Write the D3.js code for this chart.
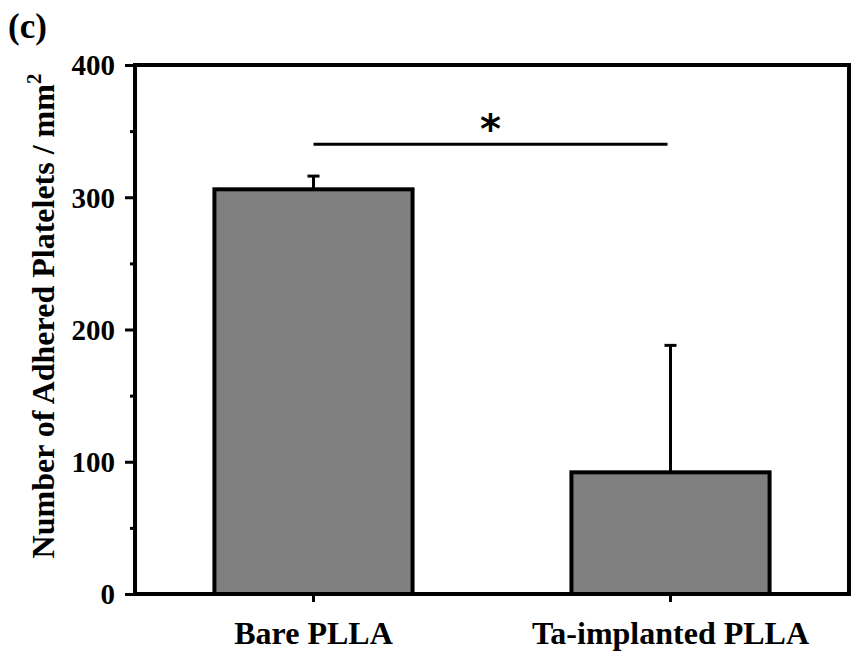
<!DOCTYPE html>
<html>
<head>
<meta charset="utf-8">
<script src="https://cdn.jsdelivr.net/npm/d3@7"></script>
<style>
  body { margin: 0; background: #fff; }
  text { font-family: "Liberation Serif", "Times New Roman", serif; font-weight: bold; }
</style>
</head>
<body>
<div class="chart"></div>
<script>
// data
const groups = ["Bare PLLA", "Ta-implanted PLLA"]
const means = [306, 92]
const errors = [10, 96]
const yTicks = [0, 100, 200, 300, 400]
const yMinorTicks = [50, 150, 250, 350]
const sigPair = ["Bare PLLA", "Ta-implanted PLLA"]

const W = 854, H = 652
const margin = {left: 135, right: 5, top: 65, bottom: 58}
const width = W - margin.left - margin.right
const height = H - margin.top - margin.bottom

const svg = d3.select(".chart").append("svg")
  .attr("width", W)
  .attr("height", H)

const g = svg.append("g")
  .attr("transform", "translate(" + margin.left + "," + margin.top + ")")

const xScale = d3.scaleBand()
  .domain(groups)
  .range([0, width])
  .paddingInner(0.445)
  .paddingOuter(0.2225)

const yScale = d3.scaleLinear()
  .domain([0, 400])
  .range([height, 0])

// bars
g.selectAll("rect.bar")
  .data(groups)
  .enter()
  .append("rect")
  .attr("class", "bar")
  .attr("x", d => xScale(d))
  .attr("y", (d, i) => yScale(means[i]))
  .attr("width", xScale.bandwidth())
  .attr("height", (d, i) => height - yScale(means[i]))
  .attr("fill", "#808080")
  .attr("stroke", "#000")
  .attr("stroke-width", 4)

// error bars (upper half only)
const eb = g.selectAll("g.err")
  .data(groups)
  .enter()
  .append("g")
  .attr("class", "err")

eb.append("line")
  .attr("x1", d => xScale(d) + xScale.bandwidth() / 2)
  .attr("x2", d => xScale(d) + xScale.bandwidth() / 2)
  .attr("y1", (d, i) => yScale(means[i]))
  .attr("y2", (d, i) => yScale(means[i] + errors[i]))
  .attr("stroke", "#000")
  .attr("stroke-width", 3)

eb.append("line")
  .attr("x1", d => xScale(d) + xScale.bandwidth() / 2 - 6)
  .attr("x2", d => xScale(d) + xScale.bandwidth() / 2 + 6)
  .attr("y1", (d, i) => yScale(means[i] + errors[i]))
  .attr("y2", (d, i) => yScale(means[i] + errors[i]))
  .attr("stroke", "#000")
  .attr("stroke-width", 3)

// significance bracket
const sx1 = xScale(sigPair[0]) + xScale.bandwidth() / 2
const sx2 = xScale(sigPair[1]) + xScale.bandwidth() / 2 - 3
const sy = yScale(340)
g.append("line")
  .attr("x1", sx1).attr("x2", sx2)
  .attr("y1", sy).attr("y2", sy)
  .attr("stroke", "#000")
  .attr("stroke-width", 3)

g.append("text")
  .attr("x", (sx1 + sx2) / 2)
  .attr("y", sy - 1)
  .attr("text-anchor", "middle")
  .attr("font-size", "40px")
  .style("font-family", "'DejaVu Sans', sans-serif")
  .text("*")

// axes
const yAxisCall = d3.axisLeft(yScale).tickValues(yTicks).tickSize(10).tickPadding(10)
const yMinorCall = d3.axisLeft(yScale).tickValues(yMinorTicks).tickSize(5).tickFormat("")
const xAxisCall = d3.axisBottom(xScale).tickSize(8).tickFormat("")

const yAxis = g.append("g").attr("class", "y axis").call(yAxisCall)
yAxis.selectAll("text").attr("font-size", "29px").attr("dy", "0.34em")
  .style("font-family", "'Liberation Serif', serif").attr("fill", "#000")
g.append("g").attr("class", "y minor").call(yMinorCall)

g.append("g")
  .attr("class", "x axis")
  .attr("transform", "translate(0," + height + ")")
  .call(xAxisCall)

g.selectAll(".axis .domain, .minor .domain").remove()
g.selectAll(".tick line").attr("stroke", "#000").attr("stroke-width", 3)

// frame
g.append("rect")
  .attr("x", 0).attr("y", 0)
  .attr("width", width).attr("height", height)
  .attr("fill", "none")
  .attr("stroke", "#000")
  .attr("stroke-width", 4)

// category labels
g.selectAll("text.xlab")
  .data(groups)
  .enter()
  .append("text")
  .attr("class", "xlab")
  .attr("x", d => xScale(d) + xScale.bandwidth() / 2)
  .attr("y", height + 50)
  .attr("text-anchor", "middle")
  .attr("font-size", "32px")
  .text(d => d)

// y label
const yl = svg.append("text")
  .attr("transform", "translate(54," + 316 + ") rotate(-90)")
  .attr("text-anchor", "middle")
  .attr("font-size", "32px")
yl.append("tspan").text("Number of Adhered Platelets / mm")
yl.append("tspan").attr("font-size", "21px").attr("dy", "-13").text("2")

// panel letter
svg.append("text")
  .attr("x", 8)
  .attr("y", 38)
  .attr("font-size", "35px")
  .text("(c)")
</script>
</body>
</html>
